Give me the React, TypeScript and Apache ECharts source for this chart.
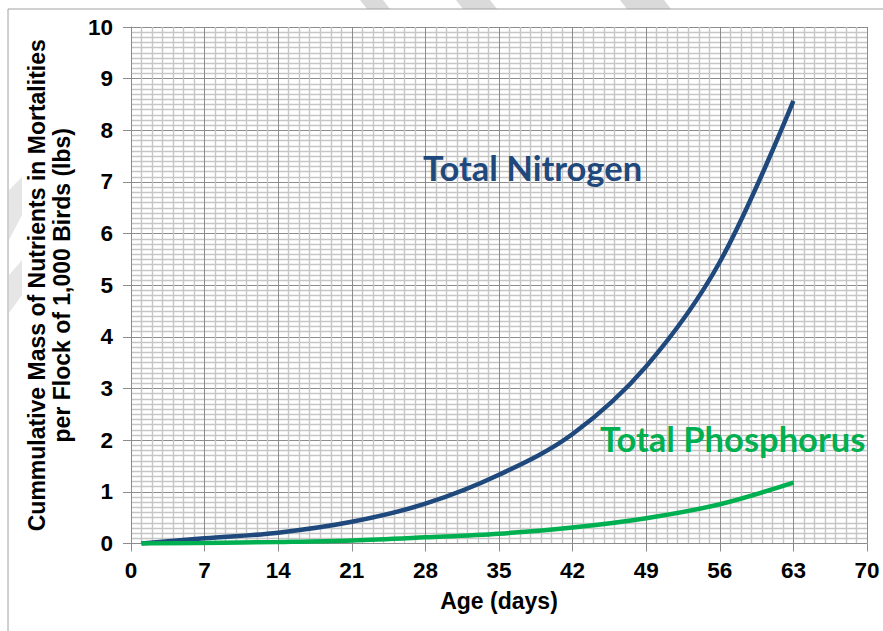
import React, { useEffect, useRef } from "react";
import * as echarts from "echarts";

const days = [1, 7, 14, 21, 28, 35, 42, 49, 56, 63];
const nitrogen = [0, 0.1, 0.21, 0.42, 0.77, 1.33, 2.12, 3.43, 5.45, 8.57];
const phosphorus = [0, 0.01, 0.03, 0.06, 0.12, 0.19, 0.31, 0.49, 0.76, 1.18];
const xTicks = [0, 7, 14, 21, 28, 35, 42, 49, 56, 63, 70];
const yTicks = [0, 1, 2, 3, 4, 5, 6, 7, 8, 9, 10];

const NAVY = "#1f497d";
const GREEN = "#00b050";
const MAJOR = "#8c8c8c";
const MINOR = "#c6c6c6";

export default function App() {
  const ref = useRef<HTMLDivElement>(null);
  useEffect(() => {
    document.body.style.margin = "0";
    const chart = echarts.init(ref.current!, null, { renderer: "svg" });
    const font = "'Liberation Sans', Arial, sans-serif";
    chart.setOption({
      animation: false,
      backgroundColor: "#ffffff",
      grid: { left: 131, right: 16, top: 27, bottom: 87.5, containLabel: false },
      xAxis: {
        type: "value",
        min: xTicks[0],
        max: xTicks[xTicks.length - 1],
        interval: 7,
        name: "Age (days)",
        nameLocation: "middle",
        nameGap: 46,
        nameTextStyle: { fontFamily: font, fontWeight: "bold", fontSize: 23, color: "#000" },
        axisLine: { show: true, lineStyle: { color: MAJOR, width: 1 } },
        axisTick: { show: true, length: 8, lineStyle: { color: MAJOR } },
        axisLabel: { fontFamily: font, fontWeight: "bold", fontSize: 22.5, color: "#000", margin: 15 },
        splitLine: { show: true, lineStyle: { color: MAJOR, width: 1 } },
        minorTick: { show: false, splitNumber: 7 },
        minorSplitLine: { show: true, lineStyle: { color: MINOR, width: 1.4 } },
      },
      yAxis: {
        type: "value",
        min: yTicks[0],
        max: yTicks[yTicks.length - 1],
        interval: 1,
        name: "Cummulative Mass of Nutrients in Mortalities\nper Flock of 1,000 Birds (lbs)",
        nameLocation: "middle",
        nameGap: 57,
        nameRotate: 90,
        nameTextStyle: { fontFamily: font, fontWeight: "bold", fontSize: 23, lineHeight: 25, color: "#000" },
        axisLine: { show: true, lineStyle: { color: MAJOR, width: 1 } },
        axisTick: { show: true, length: 8, lineStyle: { color: MAJOR } },
        axisLabel: { fontFamily: font, fontWeight: "bold", fontSize: 22.5, color: "#000", margin: 18 },
        splitLine: { show: true, lineStyle: { color: MAJOR, width: 1 } },
        minorTick: { show: false, splitNumber: 10 },
        minorSplitLine: { show: true, lineStyle: { color: MINOR, width: 1.4 } },
      },
      series: [
        {
          name: "Total Nitrogen",
          type: "line",
          data: days.map((d, i) => [d, nitrogen[i]]),
          smooth: 0.35,
          showSymbol: false,
          lineStyle: { color: NAVY, width: 4.5 },
          z: 5,
        },
        {
          name: "Total Phosphorus",
          type: "line",
          data: days.map((d, i) => [d, phosphorus[i]]),
          smooth: 0.35,
          showSymbol: false,
          lineStyle: { color: GREEN, width: 4.5 },
          z: 6,
        },
      ],
      graphic: [
        {
          type: "polyline",
          z: -10,
          shape: { points: [[8, 631], [8, 9], [883, 9]] },
          style: { stroke: "#a0a0a0", lineWidth: 1, fill: null },
          silent: true,
        },
        { type: "polygon", z: -20, shape: { points: [[360, 0], [383, 0], [390, 9], [367, 9]] }, style: { fill: "#dadada" }, silent: true },
        { type: "polygon", z: -20, shape: { points: [[456, 0], [490, 0], [497, 9], [463, 9]] }, style: { fill: "#dadada" }, silent: true },
        { type: "polygon", z: -20, shape: { points: [[620, 0], [664, 0], [671, 9], [627, 9]] }, style: { fill: "#dadada" }, silent: true },
        { type: "polygon", z: -20, shape: { points: [[9, 190], [22, 177], [22, 215], [9, 240]] }, style: { fill: "#e6e6e6" }, silent: true },
        { type: "polygon", z: -20, shape: { points: [[9, 275], [22, 260], [22, 295], [9, 313]] }, style: { fill: "#e6e6e6" }, silent: true },
        {
          type: "text",
          left: 423,
          top: 150,
          z: 10,
          style: {
            text: "Total Nitrogen",
            fill: NAVY,
            font: "bold 34.5px Lato, 'Open Sans', sans-serif",
          },
        },
        {
          type: "text",
          left: 600,
          top: 421,
          z: 10,
          style: {
            text: "Total Phosphorus",
            fill: GREEN,
            font: "bold 34.5px Lato, 'Open Sans', sans-serif",
          },
        },
      ],
    });
    return () => chart.dispose();
  }, []);
  return <div ref={ref} style={{ position: "absolute", left: 0, top: 0, width: 883, height: 631 }} />;
}
